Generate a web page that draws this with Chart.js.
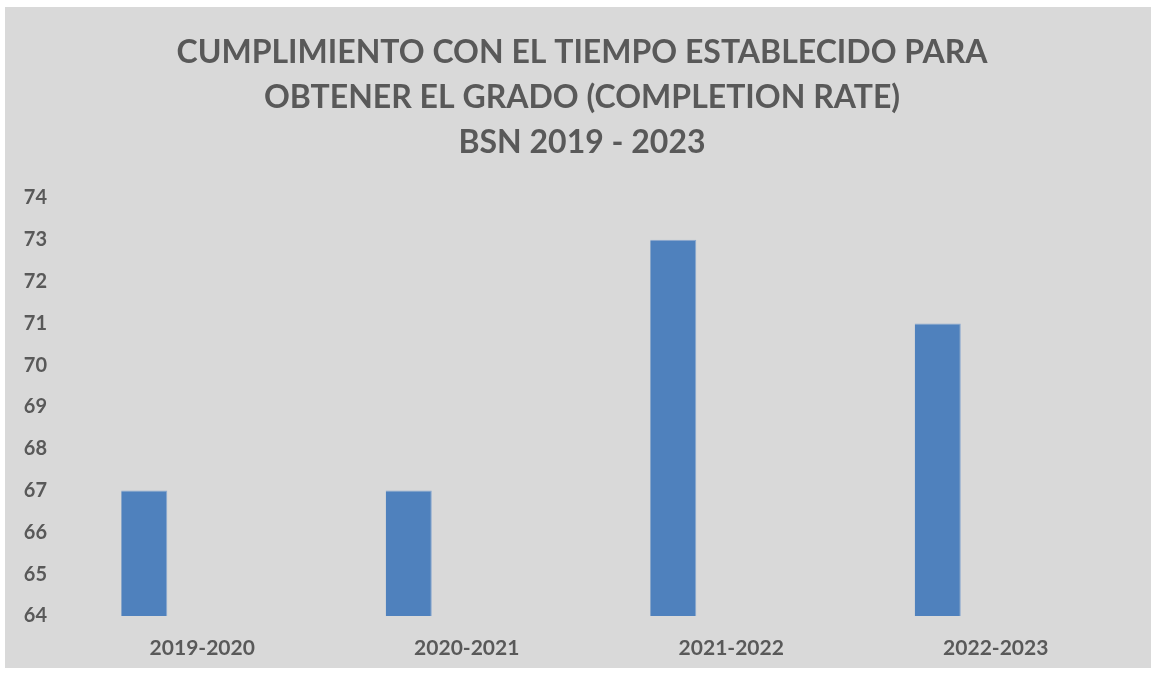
<!DOCTYPE html>
<html>
<head>
<meta charset="utf-8">
<script src="https://cdn.jsdelivr.net/npm/chart.js@4/dist/chart.umd.min.js"></script>
<style>
  html, body { margin: 0; padding: 0; background: #ffffff; }
  #wrap {
    position: absolute; left: 5px; top: 7px;
    width: 1146px; height: 661px;
    background: #d9d9d9;
  }
</style>
</head>
<body>
<div id="wrap"><canvas id="myChart"></canvas></div>
<script>
'use strict';

// values
const periodos = ['2019-2020', '2020-2021', '2021-2022', '2022-2023'];
const completionRate = [67, 67, 73, 71];
const emptySerie = [null, null, null, null];   // second (empty) series of the original sheet
const yMin = 64;
const yMax = 74;

const tituloLineas = [
  'CUMPLIMIENTO CON EL TIEMPO ESTABLECIDO PARA',
  'OBTENER EL GRADO (COMPLETION RATE)',
  'BSN 2019 - 2023'
];

const textColor = '#595959';

// the title in the original sits a bit right of the canvas centre
const shiftTitle = {
  id: 'shiftTitle',
  afterLayout(chart) {
    const t = chart.titleBlock;
    if (t) { t.left += 8; t.right += 8; }
  }
};

const ctx = document.getElementById('myChart').getContext('2d');
const chart = new Chart(ctx, {
  type: 'bar',
  data: {
    labels: periodos,
    datasets: [{
      label: 'Completion rate',
      data: completionRate,
      backgroundColor: '#4f81bd',
      borderColor: '#8aa8cf',
      borderWidth: { right: 1, bottom: 1, top: 1 },
      categoryPercentage: 0.877,
      barPercentage: 0.397
    }, {
      label: '',
      data: emptySerie,
      backgroundColor: '#c0504d',
      categoryPercentage: 0.877,
      barPercentage: 0.397
    }]
  },
  options: {
    responsive: true,
    maintainAspectRatio: false,
    animation: false,
    layout: { padding: { left: 15, right: 23, top: 0, bottom: 0 } },
    plugins: {
      legend: { display: false },
      tooltip: { enabled: false },
      title: {
        display: true,
        text: tituloLineas,
        color: textColor,
        font: { family: 'Lato', weight: 'bold', size: 32, lineHeight: 1.406 },
        padding: { top: 23, bottom: 33 }
      }
    },
    scales: {
      x: {
        grid: { display: false, drawTicks: false },
        border: { display: false },
        afterFit: function (scale) { scale.height = 52; },
        ticks: {
          color: textColor,
          font: { family: 'Lato', weight: 'bold', size: 21 },
          padding: 20
        }
      },
      y: {
        min: yMin,
        max: yMax,
        grid: { display: false, drawTicks: false },
        border: { display: false },
        afterFit: function (scale) { scale.width = 50; },
        ticks: {
          stepSize: 1,
          color: textColor,
          font: { family: 'Lato', weight: 'bold', size: 20 },
          padding: 23
        }
      }
    }
  },
  plugins: [shiftTitle]
});
</script>
</body>
</html>
